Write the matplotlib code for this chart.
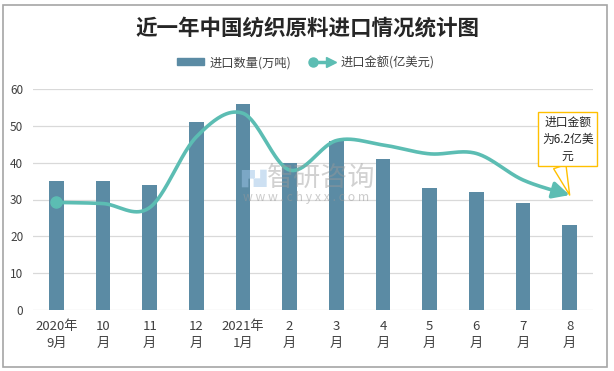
import numpy as np
import matplotlib
matplotlib.use("Agg")
import matplotlib.pyplot as plt
from matplotlib.patches import Rectangle, Patch
from matplotlib.lines import Line2D
from matplotlib.legend_handler import HandlerBase

plt.rcParams['font.family'] = ['Noto Sans CJK SC', 'DejaVu Sans']

# ---- data ----
categories = ["2020年\n9月", "10\n月", "11\n月", "12\n月", "2021年\n1月", "2\n月",
              "3\n月", "4\n月", "5\n月", "6\n月", "7\n月", "8\n月"]
quantity = [35, 35, 34, 51, 56, 40, 46, 41, 33, 32, 29, 23]          # 进口数量(万吨)
amount = [29.2, 28.9, 27.8, 47.0, 53.4, 38.0, 46.0, 44.8, 42.4, 42.5, 35.3, 31.2]  # 进口金额(亿美元)
title = "近一年中国纺织原料进口情况统计图"
bar_label = "进口数量(万吨)"
line_label = "进口金额(亿美元)"
note = "进口金额\n为6.2亿美\n元"
yticks = [0, 10, 20, 30, 40, 50, 60]

BAR_C = '#5B8BA4'
LINE_C = '#5CBDB3'
TXT_C = '#404040'

W, H = 614, 371
fig = plt.figure(figsize=(W / 100, H / 100), dpi=100)
ax = fig.add_axes([33 / W, 1 - 310 / H, (593 - 33) / W, (310 - 89) / H])

x = np.arange(len(categories))
ax.bar(x, quantity, width=0.32, color=BAR_C, zorder=2)


def smooth(xs, ys, n=40):
    pts = np.column_stack([xs, ys]).astype(float)
    out = []
    for i in range(len(pts) - 1):
        p0, p3 = pts[i], pts[i + 1]
        pm = pts[i - 1] if i > 0 else pts[i]
        pp = pts[i + 2] if i + 2 < len(pts) else pts[i + 1]
        p1 = p0 + (p3 - pm) / 6
        p2 = p3 - (pp - p0) / 6
        t = np.linspace(0, 1, n)[:, None]
        seg = (1 - t) ** 3 * p0 + 3 * (1 - t) ** 2 * t * p1 + 3 * (1 - t) * t ** 2 * p2 + t ** 3 * p3
        out.append(seg if i == 0 else seg[1:])
    return np.vstack(out)


curve = smooth(x, amount)
ax.plot(curve[:-6, 0], curve[:-6, 1], color=LINE_C, lw=2.6, zorder=3, solid_capstyle='round')
ax.plot([x[0]], [amount[0]], marker='o', ms=8, color=LINE_C, zorder=4)
ax.annotate('', xy=(x[-1], amount[-1]), xytext=(curve[-12, 0], curve[-12, 1]),
            arrowprops=dict(arrowstyle='-|>,head_length=1.0,head_width=0.5', color=LINE_C,
                            lw=2.6, shrinkA=0, shrinkB=0), zorder=4)

# callout
ax.annotate(note, xy=(x[-1], amount[-1]), xytext=(-2, 56), textcoords='offset pixels',
            ha='center', va='center', fontsize=8.5, color='#262626', linespacing=1.4,
            bbox=dict(boxstyle='square,pad=0.3', fc='white', ec='#FFC000', lw=1),
            arrowprops=dict(arrowstyle='wedge,tail_width=1.1,shrink_factor=0.5', fc='white',
                            ec='#FFC000', lw=1, shrinkA=0, shrinkB=0, relpos=(0.32, 0)),
            zorder=6)

ax.set_xlim(-0.5, len(categories) - 0.5)
ax.set_ylim(0, 60)
ax.set_yticks(yticks)
ax.set_xticks(x)
ax.set_xticklabels(categories, fontsize=9.5, color=TXT_C, linespacing=1.45)
ax.tick_params(axis='x', length=0, pad=7)
ax.tick_params(axis='y', length=0, pad=7, labelsize=8.5, labelcolor=TXT_C)
for s in ax.spines.values():
    s.set_visible(False)
ax.grid(axis='y', color='#D9D9D9', lw=0.9, zorder=0)
ax.set_axisbelow(True)

# watermark
ax.text(0.515, 0.597, "智研咨询", transform=ax.transAxes, fontsize=19.5, color='#9a9a9a',
        alpha=0.45, ha='center', va='center', zorder=5)
ax.text(0.487, 0.507, "w w w . c h y x x . c o m", transform=ax.transAxes, fontsize=8.8,
        color='#9a9a9a', alpha=0.5, ha='center', va='center', zorder=5)
ax.text(0.395, 0.597, "▛▟", transform=ax.transAxes, fontsize=12, color='#9cc3e6',
        alpha=0.5, ha='center', va='center', zorder=5, family='DejaVu Sans')

# title
fig.text(0.5, 1 - 28 / H, title, ha='center', va='center', fontsize=15.5,
         fontweight='bold', color='#262626')


class ArrowLineHandler(HandlerBase):
    def create_artists(self, legend, orig_handle, xdescent, ydescent, width, height,
                       fontsize, trans):
        y = height / 2 - ydescent
        x0 = -xdescent + 3
        x1 = width - xdescent - 3
        line = Line2D([x0, x1], [y, y], color=LINE_C, lw=2.5, transform=trans)
        dot = Line2D([x0], [y], marker='o', ms=6.5, color=LINE_C, transform=trans)
        head = Line2D([x1], [y], marker='>', ms=6.5, color=LINE_C, transform=trans)
        return [line, dot, head]


handles = [Patch(color=BAR_C), Line2D([], [], color=LINE_C)]
leg = fig.legend(handles, [bar_label, line_label], loc='center',
                 bbox_to_anchor=(306 / W, 1 - 62.5 / H), ncol=2, frameon=False,
                 fontsize=8.8, handlelength=2.2, handleheight=0.55, handletextpad=0.45,
                 columnspacing=1.4, labelcolor=TXT_C,
                 handler_map={Line2D: ArrowLineHandler()})

# outer border
fig.patches.append(Rectangle((3 / W, 1 - 367 / H), (607 - 3) / W, (367 - 5) / H,
                             transform=fig.transFigure, fill=False, ec='#A6A6A6', lw=1.2))

fig.savefig('out.png', dpi=100)
